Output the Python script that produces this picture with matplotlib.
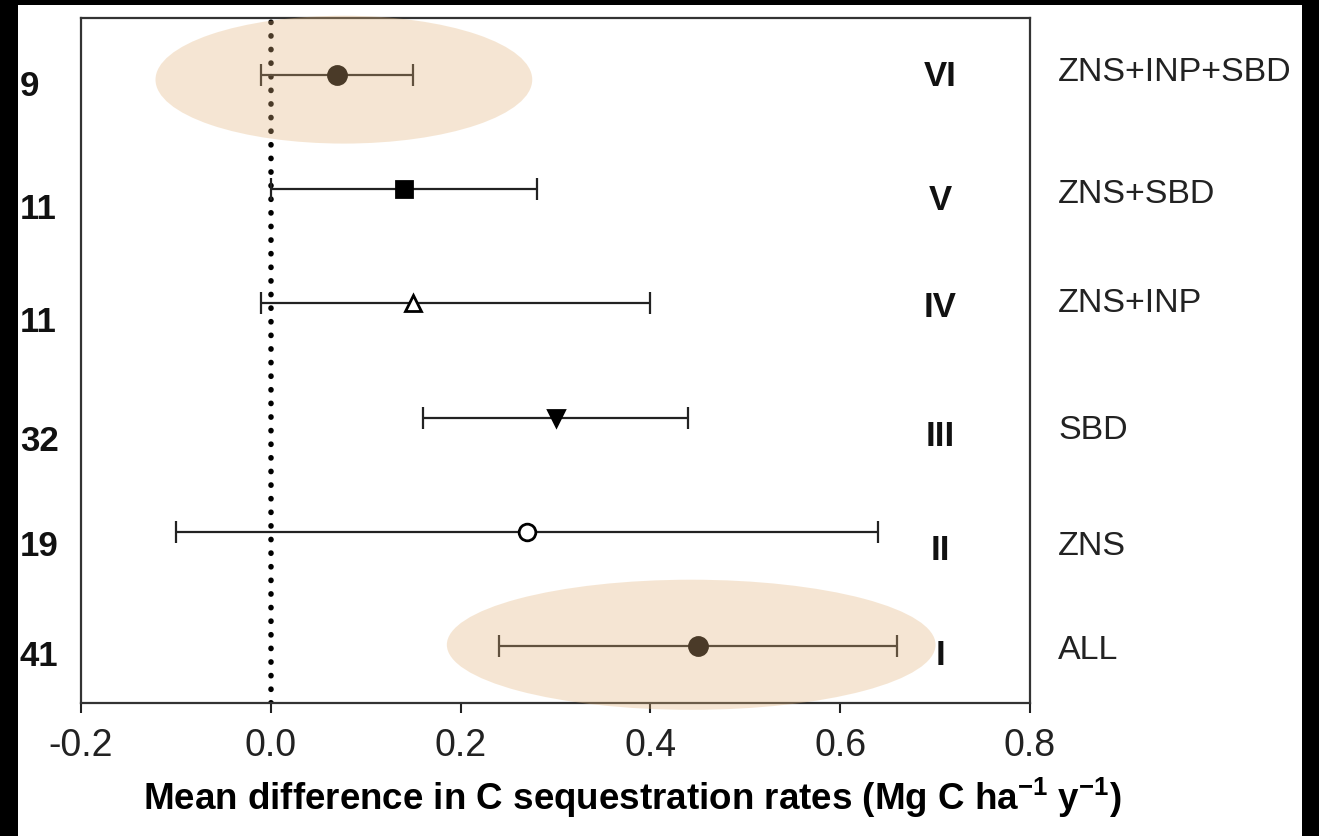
import matplotlib
matplotlib.use("Agg")
import matplotlib.pyplot as plt
from matplotlib.patches import Ellipse, Rectangle
from matplotlib.transforms import blended_transform_factory

plt.rcParams['font.family'] = ['Liberation Sans', 'DejaVu Sans']
plt.rcParams['mathtext.fontset'] = 'custom'
plt.rcParams['mathtext.rm'] = 'Liberation Sans'
plt.rcParams['mathtext.bf'] = 'Liberation Sans:bold'

# Data (bottom to top)
groups = ["ALL", "ZNS", "SBD", "ZNS+INP", "ZNS+SBD", "ZNS+INP+SBD"]
numerals = ["I", "II", "III", "IV", "V", "VI"]
n_studies = ["41", "19", "32", "11", "11", "9"]
means = [0.45, 0.27, 0.30, 0.15, 0.14, 0.07]
ci_low = [0.24, -0.10, 0.16, -0.01, 0.00, -0.01]
ci_high = [0.66, 0.64, 0.44, 0.40, 0.28, 0.15]

# marker styles per row
markers = ["o", "o", "v", "^", "s", "o"]
filled = [True, False, True, False, True, True]
msizes = [13, 12, 12, 12, 11, 13]

# small vertical nudges of the text labels (data units, positive = down)
num_off = [0.09, 0.13, 0.21, 0.17, 0.18, 0.10]
rom_off = [0.08, 0.16, 0.17, 0.04, 0.10, 0.01]
lab_off = [0.04, 0.13, 0.11, 0.0, 0.05, -0.02]

fig = plt.figure(figsize=(13.19, 8.36), dpi=100)
fig.patch.set_facecolor("white")
ax = fig.add_axes([81 / 1319, 133 / 836, 949 / 1319, 685 / 836])

y = list(range(1, len(groups) + 1))

# dotted zero line
ax.plot([0, 0], [0.5, 6.5], color="black", lw=4, linestyle=(0, (0.05, 2.4)),
        dash_capstyle="round", zorder=2)

for i in range(len(groups)):
    xerr = [[means[i] - ci_low[i]], [ci_high[i] - means[i]]]
    ax.errorbar(means[i], y[i], xerr=xerr, fmt="none", ecolor="#222222",
                elinewidth=1.6, capsize=8, capthick=1.6, zorder=3)
    ax.plot(means[i], y[i], marker=markers[i], markersize=msizes[i],
            markerfacecolor="black" if filled[i] else "white",
            markeredgecolor="black", markeredgewidth=2, linestyle="none", zorder=4)

# highlight ellipses
ax.add_patch(Ellipse((0.077, 5.96), 0.397, 1.12, facecolor=(0.89, 0.70, 0.48),
                     alpha=0.33, edgecolor="none", clip_on=False, zorder=5))
ax.add_patch(Ellipse((0.443, 1.01), 0.515, 1.14, facecolor=(0.89, 0.70, 0.48),
                     alpha=0.33, edgecolor="none", clip_on=False, zorder=5))

ax.set_xlim(-0.2, 0.8)
ax.set_ylim(0.5, 6.5)
ax.set_xticks([-0.2, 0.0, 0.2, 0.4, 0.6, 0.8])
ax.set_xticklabels(["-0.2", "0.0", "0.2", "0.4", "0.6", "0.8"])
ax.set_yticks([])
ax.tick_params(axis="x", direction="out", length=7, width=1.5, pad=11,
               labelsize=27, colors="#222222")
for s in ax.spines.values():
    s.set_linewidth(1.6)
    s.set_color("#333333")

ax.set_xlabel(r"Mean difference in C sequestration rates (Mg C ha$^{\mathbf{-1}}$ y$^{\mathbf{-1}}$)",
              fontsize=26.5, fontweight="bold")
ax.xaxis.set_label_coords(0.581, -0.105)

tr = blended_transform_factory(fig.transFigure, ax.transData)
for i in range(len(groups)):
    ax.text(20 / 1319, y[i] - num_off[i], n_studies[i], transform=tr, fontsize=25,
            fontweight="bold", ha="left", va="center", color="#111111")
    ax.text(940 / 1319, y[i] - rom_off[i], numerals[i], transform=tr, fontsize=25,
            fontweight="bold", ha="center", va="center", color="#111111")
    ax.text(1058 / 1319, y[i] - lab_off[i], groups[i], transform=tr, fontsize=24.5,
            ha="left", va="center", color="#222222")

# black frame bands as in the scanned figure
fig.patches.append(Rectangle((0, 0), 18 / 1319, 1, transform=fig.transFigure,
                             facecolor="black", edgecolor="none", zorder=10))
fig.patches.append(Rectangle((1302 / 1319, 0), 17 / 1319, 1, transform=fig.transFigure,
                             facecolor="black", edgecolor="none", zorder=10))
fig.patches.append(Rectangle((0, 1 - 5 / 836), 1, 5 / 836, transform=fig.transFigure,
                             facecolor="black", edgecolor="none", zorder=10))

fig.savefig("out.png", dpi=100)
